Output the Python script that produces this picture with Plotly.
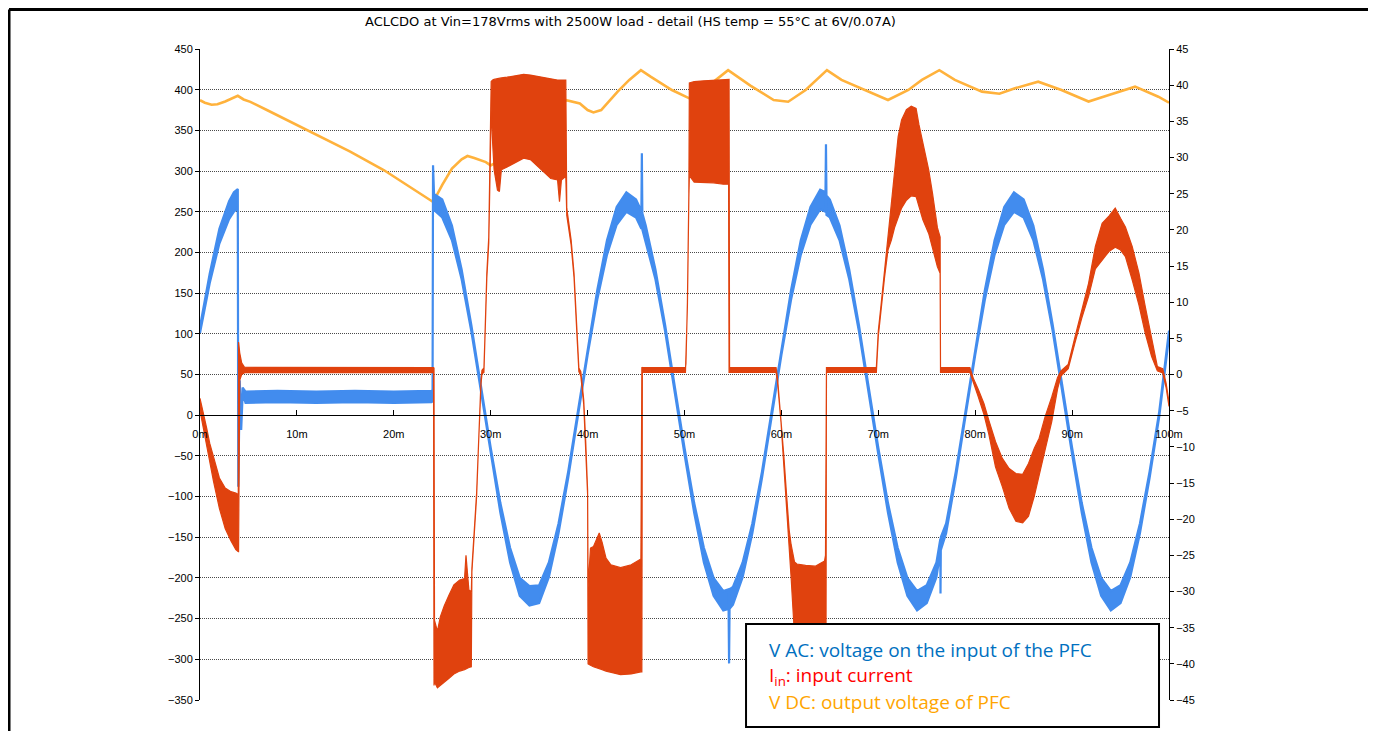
import plotly.graph_objects as go

# ---------------- data ----------------
x_tick_vals = [0, 10, 20, 30, 40, 50, 60, 70, 80, 90, 100]
x_tick_text = ["0m", "10m", "20m", "30m", "40m", "50m", "60m", "70m", "80m", "90m", "100m"]
left_ticks = [-350, -300, -250, -200, -150, -100, -50, 0, 50, 100, 150, 200, 250, 300, 350, 400, 450]
right_ticks = [-45, -40, -35, -30, -25, -20, -15, -10, -5, 0, 5, 10, 15, 20, 25, 30, 35, 40, 45]

# V AC (left axis, volts): time [ms], centre value, half-width of noise band
vac_t = [0, 1, 2, 3, 3.5, 3.9, 3.95, 4.1, 4.25, 4.4, 4.7, 8, 12, 16, 20, 23.9, 24.0, 24.05, 24.15,
         25, 26, 27, 28, 29, 30, 31, 32, 33, 34, 35, 36, 37, 38, 39, 40, 41, 42, 43, 44, 45,
         45.55, 45.6, 45.65, 46, 47, 48, 49, 50, 51, 52, 53, 54, 54.55, 54.6, 54.65, 55, 56, 57,
         58, 59, 60, 61, 62, 63, 64, 64.55, 64.6, 64.65, 65, 66, 67, 68, 69, 70, 71, 72, 73, 74,
         75, 76, 76.4, 76.42, 76.45, 77, 78, 79, 80, 81, 82, 83, 84, 85, 86, 87, 88, 89, 90, 91,
         92, 93, 94, 95, 96, 97, 98, 99, 100]
vac_v = [105, 168, 220, 252, 262, 266, -85, 40, -15, 30, 22, 23, 22, 23, 22, 23, 24, 305, 262,
         254, 224, 173, 107, 32, -44, -114, -172, -211, -222, -220, -190, -139, -73, 2, 78, 148, 206, 245, 262, 254,
         240, 320, 238, 224, 173, 107, 32, -44, -114, -172, -211, -228, -226, -303, -226, -222, -190, -139,
         -73, 2, 78, 148, 206, 245, 265, 262, 331, 258, 254, 224, 173, 107, 32, -44, -114, -172, -211, -228,
         -220, -190, -160, -217, -158, -139, -73, 2, 78, 148, 206, 245, 262, 254, 224, 173, 107, 32, -44, -114,
         -172, -211, -228, -220, -190, -139, -73, 2, 100]
vac_w = [4, 6, 9, 11, 12, 12, 3, 3, 3, 4, 7, 7, 7, 7, 7, 7, 7, 2, 10,
         11, 9, 6, 4, 3, 4, 6, 9, 11, 12, 11, 9, 6, 4, 3, 4, 6, 9, 11, 12, 11,
         11, 2, 10, 9, 6, 4, 3, 4, 6, 9, 11, 12, 12, 2, 12, 11, 9, 6,
         4, 3, 4, 6, 9, 11, 12, 12, 2, 12, 11, 9, 6, 4, 3, 4, 6, 9, 11, 12,
         11, 9, 8, 2, 8, 6, 4, 3, 4, 6, 9, 11, 12, 11, 9, 6, 4, 3, 4, 6,
         9, 11, 12, 11, 9, 6, 4, 3, 4]

# I in (right axis, amps): time [ms], upper and lower edge of the switching band
cur_t = [0.0, 0.3, 0.7, 1.0, 1.4, 2.0, 2.6, 3.2, 3.7, 3.95, 3.98, 4.1, 4.3, 4.6, 24.1, 24.15,
         24.2, 24.5, 24.8, 25.2, 25.7, 26.2, 26.8, 27.3, 27.45, 27.6, 27.75, 28.0, 28.04, 28.06,
         28.55, 28.75, 29.0, 29.1, 29.3, 29.4, 29.6, 29.8, 29.95, 30.05, 30.2, 30.35, 30.7, 30.9,
         31.1, 31.7, 32.75, 33.4, 34.1, 35.2, 36.2, 36.9, 37.1, 37.3, 37.75, 37.85, 38.3, 38.6,
         38.95, 39.1, 39.3, 39.6, 39.8, 40.0, 40.05, 40.3, 40.6, 41.0, 41.2, 41.5, 41.9, 42.4,
         43.4, 44.5, 45.5, 45.6, 45.65, 50.1, 50.15, 50.3, 50.45, 50.5, 51.0, 52.0, 53.0, 54.0,
         54.55, 54.6, 54.65, 59.45, 59.6, 59.96, 60.25, 60.5, 60.8, 61.0, 61.35, 61.6, 62.5, 63.5,
         64.45, 64.55, 64.6, 64.65, 69.8, 70.0, 70.3, 70.65, 71.0, 71.35, 71.7, 72.05, 72.4, 72.9,
         73.4, 73.9, 74.2, 74.6, 75.2, 75.6, 76.1, 76.38, 76.42, 79.45, 79.8, 80.3, 80.9, 81.4,
         82.1, 82.8, 83.5, 84.2, 84.9, 85.5, 86.1, 86.6, 87.2, 87.9, 88.5, 88.85, 89.3, 89.6,
         90.3, 91.0, 91.7, 92.4, 93.1, 93.8, 94.45, 95.0, 95.5, 96.2, 96.9, 97.55, 98.2, 98.8,
         99.35, 99.7, 100.0]
cur_hi = [-3.3, -5.0, -7.5, -9.5, -11.4, -14.3, -15.7, -16.2, -16.4, -16.6, 4.5, 3.0, 1.6, 1.0, 0.95, 0.9,
          -34.0, -35.5, -33.5, -32.0, -30.5, -29.1, -28.4, -28.2, -25.0, -27.0, -29.8, -30.0, -27.0, -26.8,
          -16.3, -9.0, -0.8, 0.6, 0.9, 5.0, 14.0, 19.0, 30.0, 40.5, 40.7, 40.8, 40.9, 41.0,
          41.0, 41.1, 41.3, 41.5, 41.4, 41.1, 40.8, 40.7, 40.7, 40.7, 40.7, 23.0, 18.6, 14.0,
          4.8, 0.9, 0.4, -3.5, -9.1, -16.0, -29.4, -24.0, -23.8, -22.6, -21.9, -23.2, -25.4, -26.3,
          -26.7, -26.3, -25.5, 1.0, 0.95, 0.95, 1.5, 10.0, 25.0, 40.3, 40.5, 40.6, 40.7, 40.8,
          40.8, 40.8, 0.95, 0.95, -0.5, -6.0, -11.2, -16.0, -21.5, -23.5, -25.9, -26.2, -26.4, -26.5,
          -25.8, -25.0, 0.95, 0.95, 0.95, 6.0, 9.8, 14.5, 19.0, 24.1, 29.2, 32.9, 35.2, 36.6,
          37.1, 36.8, 34.5, 32.2, 28.3, 25.0, 20.3, 19.0, 0.95, 0.95, -0.5, -2.0, -4.0, -6.3,
          -9.3, -11.6, -13.0, -13.7, -13.8, -12.3, -10.2, -8.8, -5.9, -3.1, -0.4, 0.5, 1.0, 1.4,
          5.2, 9.0, 12.6, 17.7, 20.9, 21.9, 23.0, 21.6, 20.4, 17.7, 14.0, 9.4, 5.2, 1.1,
          0.8, -1.2, -3.8]
cur_lo = [-5.0, -7.0, -10.0, -12.0, -14.8, -18.5, -21.3, -23.0, -24.2, -24.5, -24.5, -0.8, 0.0, 0.25, 0.3, -43.0,
          -42.5, -43.3, -42.9, -42.5, -42.0, -41.4, -41.0, -40.8, -40.7, -40.6, -40.5, -40.4, -40.4, -27.3,
          -16.8, -9.5, -1.3, 0.1, 0.3, 4.4, 13.3, 18.2, 29.0, 37.0, 32.0, 28.3, 25.5, 25.3,
          28.3, 28.7, 29.4, 29.9, 29.7, 28.3, 27.1, 26.9, 23.9, 26.9, 27.4, 22.0, 17.9, 13.4,
          4.2, 0.4, -0.2, -4.1, -9.7, -16.6, -40.0, -40.2, -40.4, -40.6, -40.7, -40.8, -41.0, -41.2,
          -41.5, -41.4, -41.1, -41.1, 0.3, 0.3, 0.3, 9.4, 24.4, 27.5, 26.6, 26.6, 26.5, 26.3,
          26.3, 0.3, 0.3, 0.3, -1.1, -6.6, -11.8, -16.7, -24.0, -28.0, -36.0, -40.2, -41.0, -41.2,
          -41.0, -41.0, -41.0, 0.3, 0.3, 5.3, 9.0, 13.5, 17.2, 18.6, 20.4, 21.8, 23.0, 24.1,
          24.7, 24.6, 23.2, 21.4, 19.5, 17.7, 14.9, 14.0, 0.3, 0.3, -1.0, -3.0, -5.5, -8.2,
          -12.8, -15.5, -18.5, -20.3, -20.5, -19.6, -16.8, -14.0, -10.5, -6.5, -2.0, -0.2, 0.4, 0.8,
          4.4, 7.8, 10.8, 14.6, 15.8, 17.0, 17.6, 17.2, 16.3, 13.1, 9.6, 5.7, 2.5, 0.5,
          0.2, -1.8, -4.4]

# V DC (left axis, volts)
vdc_t = [0, 0.5, 1.2, 1.8, 2.6, 3.3, 3.9, 4.5, 5.2, 6.9, 9.3, 12.1, 15.5, 19.0, 22.4, 24.06,
         25.0, 26.0, 27.0, 27.6, 28.3, 29.5, 30.0, 32.0, 34.0, 36.0, 37.8, 38.5, 39.2, 40.0,
         40.6, 41.4, 42.2, 43.1, 44.3, 45.5, 46.5, 48.7, 50.5, 52.5, 54.5, 56.8, 59.2, 60.7,
         62.5, 64.7, 66.2, 69.3, 71.0, 73.1, 74.5, 76.3, 77.9, 80.7, 82.5, 84.1, 86.5, 88.9,
         91.7, 93.8, 96.5, 98.9, 100.0]
vdc_v = [387, 384, 381.5, 382, 385.5, 389, 392.5, 388, 385, 375, 360.5, 344, 324, 301, 275, 262,
         283, 303, 314.5, 318.5, 316, 311, 307, 320, 345, 368, 387, 385, 383, 375,
         372, 375, 386, 397.6, 412, 424, 416, 399.6, 389.4, 405, 424, 405, 387.3, 385.2,
         399.6, 424, 412, 395.6, 387.3, 399.6, 412, 424, 412, 397.6, 395, 401.7, 409.8, 399.6,
         385.5, 393.5, 403.7, 391.4, 384]

title_text = "ACLCDO at Vin=178Vrms with 2500W load - detail (HS temp = 55°C at 6V/0.07A)"
legend_lines = ["V AC: voltage on the input of the PFC",
                "I<sub>in</sub>: input current",
                "V DC: output voltage of PFC"]
legend_colors = ["#0070C0", "#FF0000", "#FFA500"]

# ---------------- figure ----------------
BLUE = "#428CEE"
RED = "#E0420E"
YELLOW = "#FFB23C"


def band(t, hi, lo):
    return list(t) + list(t)[::-1], list(hi) + list(lo)[::-1]


vac_hi = [v + w for v, w in zip(vac_v, vac_w)]
vac_lo = [v - w for v, w in zip(vac_v, vac_w)]

fig = go.Figure()

fig.add_trace(go.Scatter(x=vdc_t, y=vdc_v, mode="lines", line=dict(color=YELLOW, width=2.6),
                         hoverinfo="skip", yaxis="y"))

bx, by = band(vac_t, vac_hi, vac_lo)
fig.add_trace(go.Scatter(x=bx, y=by, mode="lines", fill="toself", fillcolor=BLUE,
                         line=dict(color=BLUE, width=2.2), hoverinfo="skip", yaxis="y"))

cx, cy = band(cur_t, cur_hi, cur_lo)
fig.add_trace(go.Scatter(x=cx, y=cy, mode="lines", fill="toself", fillcolor=RED,
                         line=dict(color=RED, width=1.2), hoverinfo="skip", yaxis="y2"))

tick_font = dict(family="Liberation Sans, Arial, sans-serif", size=11, color="black")

# page body has an 8px margin, so the figure is 8px smaller than the window
fig.update_layout(
    width=1368, height=723,
    margin=dict(l=192, r=207, t=41, b=31),
    paper_bgcolor="white", plot_bgcolor="white",
    showlegend=False,
    xaxis=dict(range=[0, 100], tickvals=x_tick_vals, ticktext=x_tick_text,
               showgrid=False, zeroline=False, showline=True, linecolor="black", linewidth=1,
               ticks="inside", ticklen=5, tickcolor="black", anchor="free", position=0.4375,
               tickfont=tick_font, ticklabelstandoff=9),
    yaxis=dict(range=[-350, 450], tickvals=left_ticks, showgrid=True, gridcolor="#4a4a4a",
               griddash="1px,1px", gridwidth=1, zeroline=False, showline=True, linecolor="black",
               linewidth=1, ticks="outside", ticklen=4, tickcolor="black", tickfont=tick_font),
    yaxis2=dict(range=[-45, 45], tickvals=right_ticks, overlaying="y", side="right",
                showgrid=False, zeroline=False, showline=True, linecolor="black", linewidth=1,
                ticks="outside", ticklen=4, tickcolor="black", tickfont=tick_font),
)

# outer frame (top, left, right)
frame = dict(color="black", width=3)
fig.add_shape(type="line", xref="paper", yref="paper", x0=-0.1971, x1=1.2095, y0=1.0607, y1=1.0607, line=frame)
fig.add_shape(type="line", xref="paper", yref="paper", x0=-0.1971, x1=-0.1971, y0=1.0607, y1=-0.07, line=frame)
fig.add_shape(type="line", xref="paper", yref="paper", x0=1.2095, x1=1.2095, y0=1.0607, y1=-0.07, line=frame)

# legend box
fig.add_shape(type="rect", xref="paper", yref="paper", x0=0.5635, x1=0.9897, y0=-0.0415, y1=0.1167,
              line=dict(color="black", width=2), fillcolor="white", layer="above")
legend_y = [0.0768, 0.0369, -0.0038]
for txt, col, yy in zip(legend_lines, legend_colors, legend_y):
    fig.add_annotation(text=txt, xref="paper", yref="paper", x=0.5851, y=yy, xanchor="left",
                       yanchor="middle", showarrow=False,
                       font=dict(family="Open Sans, Noto Sans, sans-serif", size=19, color=col))

fig.add_annotation(text=title_text, xref="paper", yref="paper", x=0.444, y=1.0415, xanchor="center",
                   yanchor="middle", showarrow=False,
                   font=dict(family="DejaVu Sans, sans-serif", size=13, color="black"))

fig.write_html("out.html")
